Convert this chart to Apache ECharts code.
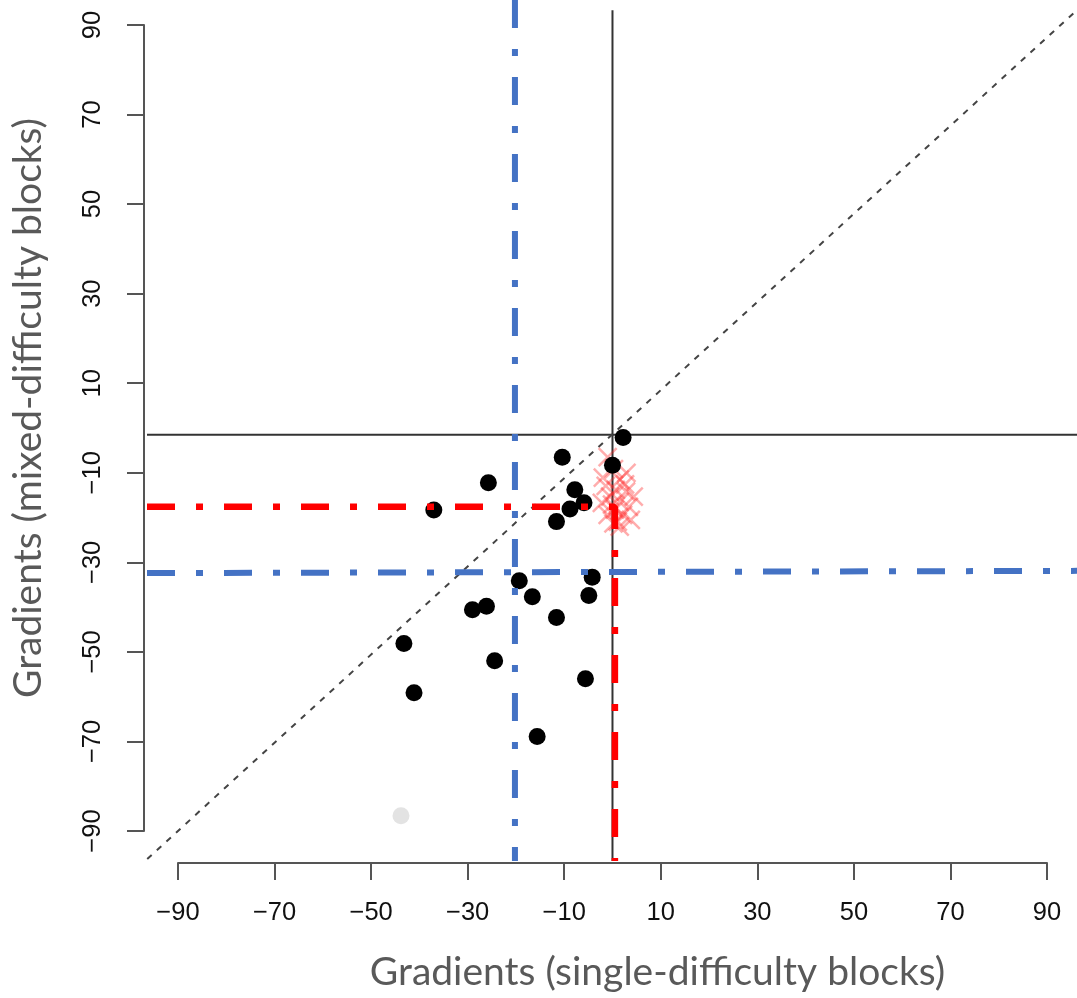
<!DOCTYPE html>
<html>
<head>
<meta charset="utf-8">
<script src="https://cdn.jsdelivr.net/npm/echarts@6/dist/echarts.min.js"></script>
<style>html,body{margin:0;padding:0;background:#fff}#c{width:1077px;height:998px}</style>
</head>
<body>
<div id="c"></div>
<script>
// ---- data ----
const xTicks = [-90, -70, -50, -30, -10, 10, 30, 50, 70, 90];
const xTickLabels = ['−90', '−70', '−50', '−30', '−10', '10', '30', '50', '70', '90'];
const yTicks = [-90, -70, -50, -30, -10, 10, 30, 50, 70, 90];
const yTickLabels = ['−90', '−70', '−50', '−30', '−10', '10', '30', '50', '70', '90'];

// participants (black dots): single-difficulty gradient (x), mixed-difficulty gradient (y)
const dotsX = [2.2, 0.0, -10.4, -25.7, -37.0, -7.8, -5.9, -8.8, -11.6, -19.3, -4.2, -4.9, -16.6, -29.0, -26.1, -11.6, -43.2, -24.4, -5.6, -41.1, -15.6];
const dotsY = [-2.1, -8.3, -6.5, -12.2, -18.3, -13.8, -16.7, -18.1, -20.9, -34.1, -33.3, -37.4, -37.7, -40.6, -39.8, -42.3, -48.1, -52.0, -56.0, -59.1, -68.9];
// excluded participant (light grey dot)
const greyX = [-43.8];
const greyY = [-86.6];
// red crosses
const crossX = [-1.0, 0.3, 1.5, -1.4, 0.7, 2.8, 4.4, -0.5, 1.5, -2.2, 3.4, 0.5, 2.2, -1.0, 3.8, 1.1, -0.1, 2.6, -2.0, 1.5, 0.2, 2.9];
const crossY = [-6.5, -9.2, -11.5, -12.9, -13.8, -14.2, -15.3, -15.3, -16.5, -16.7, -17.6, -18.2, -19.4, -19.4, -20.5, -20.9, -17.1, -12.6, -11.1, -22.0, -21.3, -10.0];

// reference lines
const plotXRange = [-96.4, 96.2];   // extent of the plotting region
const plotYRange = [-96.7, 95.6];
const zeroH = -1.5;                 // horizontal black reference line
const zeroVTop = 93.3;              // top of vertical black reference line
const diagX = [-96.35, 96.2];       // identity (dotted) line
const diagY = [-96.25, 93.35];
const redMeanX = 0.5, redMeanY = -17.6;
const blueMeanX = -20.2;
const blueMeanY = [-32.4, -31.9];

const dashDot = [28, 21, 7, 21];

const chart = echarts.init(document.getElementById('c'), null, {renderer: 'canvas'});

function pairs(xs, ys) { return xs.map((x, i) => [x, ys[i]]); }

const tickFont = {fontFamily: 'Liberation Sans', fontSize: 25.5, color: '#111'};
const nameFont = {fontFamily: 'Lato', fontSize: 39, color: '#595959'};
const hidden = {show: false};

chart.setOption({
  animation: false,
  backgroundColor: '#fff',
  grid: [
    // plotting region
    {left: 147, top: 0, width: 930, height: 861, containLabel: false},
    // axes (span only the tick range, as in R)
    {left: 178, top: 25, width: 869, height: 806, containLabel: false}
  ],
  xAxis: [
    {gridIndex: 0, type: 'value', min: plotXRange[0], max: plotXRange[1],
      axisLine: hidden, axisTick: hidden, axisLabel: hidden, splitLine: hidden},
    {gridIndex: 1, type: 'value', min: -90, max: 90, interval: 10,
      position: 'bottom', offset: 32,
      axisLine: {show: true, onZero: false, lineStyle: {color: '#555', width: 2}},
      axisTick: {show: true, inside: false, length: 17, customValues: xTicks, lineStyle: {color: '#555', width: 2}},
      axisLabel: {show: true, margin: 37, customValues: xTicks, ...tickFont,
        formatter: v => xTickLabels[xTicks.indexOf(v)] ?? ''},
      splitLine: hidden,
      name: 'Gradients (single-difficulty blocks)', nameLocation: 'middle', nameGap: 90,
      nameTextStyle: {...nameFont, padding: [0, 0, 0, 90]}}
  ],
  yAxis: [
    {gridIndex: 0, type: 'value', min: plotYRange[0], max: plotYRange[1],
      axisLine: hidden, axisTick: hidden, axisLabel: hidden, splitLine: hidden},
    {gridIndex: 1, type: 'value', min: -90, max: 90, interval: 10,
      position: 'left', offset: 34,
      axisLine: {show: true, onZero: false, lineStyle: {color: '#555', width: 2}},
      axisTick: {show: true, inside: false, length: 17, customValues: yTicks, lineStyle: {color: '#555', width: 2}},
      axisLabel: {show: true, margin: 38, rotate: 90, customValues: yTicks, ...tickFont,
        formatter: v => yTickLabels[yTicks.indexOf(v)] ?? ''},
      splitLine: hidden,
      name: 'Gradients (mixed-difficulty blocks)', nameLocation: 'middle', nameGap: 96, nameRotate: 90,
      nameTextStyle: {...nameFont, padding: [0, 0, 0, 40]}}
  ],
  series: [
    {type: 'line', clip: false, symbol: 'none', silent: true, z: 2,
      data: [[plotXRange[0], zeroH], [plotXRange[1], zeroH]],
      lineStyle: {color: '#333', width: 2}},
    {type: 'line', clip: false, symbol: 'none', silent: true, z: 2,
      data: [[0, zeroVTop], [0, plotYRange[0]]],
      lineStyle: {color: '#333', width: 2}},
    {type: 'line', clip: false, symbol: 'none', silent: true, z: 2,
      data: pairs(diagX, diagY),
      lineStyle: {color: '#444', width: 2, type: [6, 7]}},
    {type: 'scatter', clip: false, silent: true, z: 3, symbol: 'path://M0 0L10 10M10 0L0 10', symbolSize: 18,
      data: pairs(crossX, crossY), itemStyle: {color: 'none', borderColor: 'rgba(255,40,40,0.38)', borderWidth: 2.5, opacity: 1}},
    {type: 'scatter', clip: false, silent: true, z: 4, symbol: 'circle', symbolSize: 17,
      data: pairs(greyX, greyY), itemStyle: {color: '#e3e3e3', opacity: 1}},
    {type: 'scatter', clip: false, silent: true, z: 4, symbol: 'circle', symbolSize: 17,
      data: pairs(dotsX, dotsY), itemStyle: {color: '#000', opacity: 1}},
    {type: 'line', clip: false, symbol: 'none', silent: true, z: 5,
      data: [[plotXRange[0], redMeanY], [redMeanX, redMeanY], [redMeanX, plotYRange[0]]],
      lineStyle: {color: '#ff0000', width: 6.5, type: dashDot, cap: 'butt'}},
    {type: 'line', clip: false, symbol: 'none', silent: true, z: 5,
      data: [[blueMeanX, plotYRange[1]], [blueMeanX, plotYRange[0]]],
      lineStyle: {color: '#4472c4', width: 6, type: dashDot, cap: 'butt'}},
    {type: 'line', clip: false, symbol: 'none', silent: true, z: 5,
      data: [[plotXRange[0], blueMeanY[0]], [plotXRange[1], blueMeanY[1]]],
      lineStyle: {color: '#4472c4', width: 6, type: dashDot, cap: 'butt'}}
  ]
});
</script>
</body>
</html>
